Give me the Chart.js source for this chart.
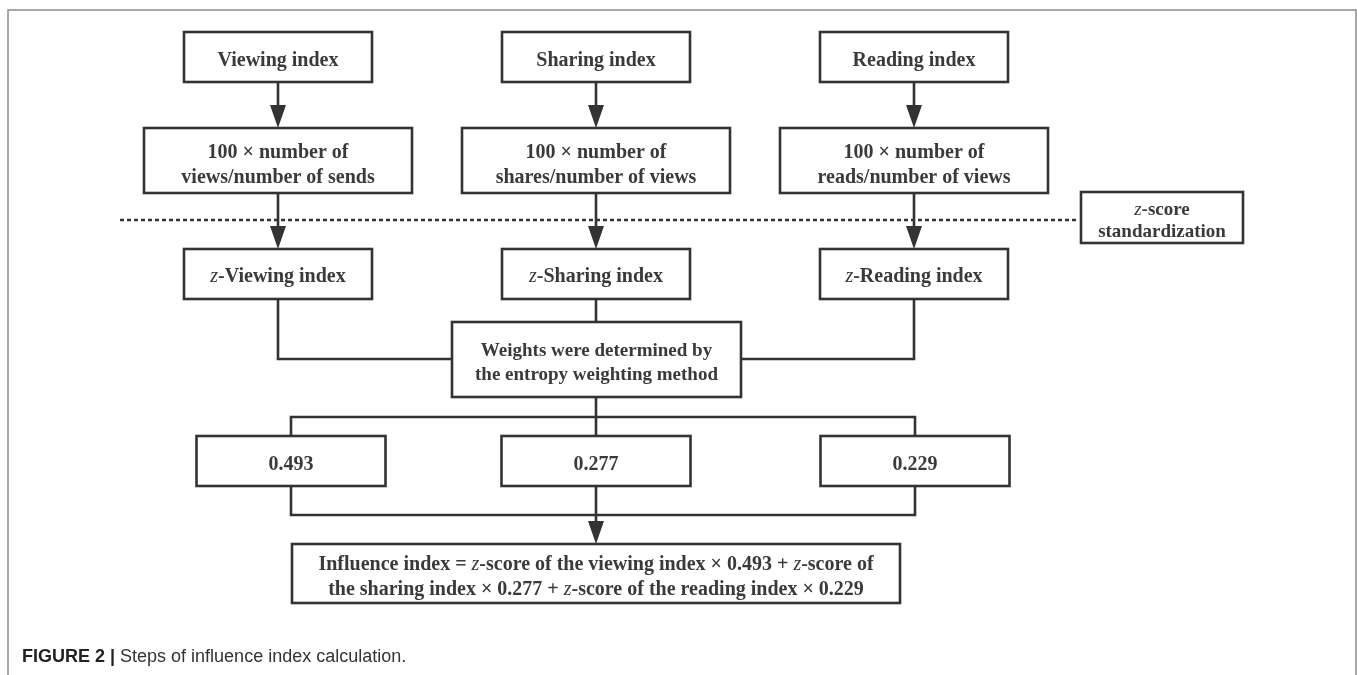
<!DOCTYPE html>
<html>
<head>
<meta charset="utf-8">
<script src="https://cdn.jsdelivr.net/npm/chart.js@4.4.1/dist/chart.umd.min.js"></script>
<style>
  html, body { margin: 0; padding: 0; background: #fff; }
  #wrap { width: 1357px; height: 675px; position: relative; }
</style>
</head>
<body>
<div id="wrap"><canvas id="c" width="1357" height="675"></canvas></div>
<script>
// ---------------- DATA (content of the flowchart) ----------------
const sourceIndices = ['Viewing index', 'Sharing index', 'Reading index'];
const formulaLines = [
  ['100 × number of', 'views/number of sends'],
  ['100 × number of', 'shares/number of views'],
  ['100 × number of', 'reads/number of views']
];
const standardizedIndices = ['*z*-Viewing index', '*z*-Sharing index', '*z*-Reading index'];
const stageNote = ['*z*-score', 'standardization'];
const weightingStep = ['Weights were determined by', 'the entropy weighting method'];
const weights = [0.493, 0.277, 0.229];
const resultLines = [
  'Influence index = *z*-score of the viewing index × 0.493 + *z*-score of',
  'the sharing index × 0.277 + *z*-score of the reading index × 0.229'
];
const captionBold = 'FIGURE 2 |';
const captionText = ' Steps of influence index calculation.';

// ---------------- LAYOUT (scale units) ----------------
const L = {
  colX: [278, 596, 914],
  weightColX: [291, 596, 915],
  row1: { top: 32, bottom: 82, w: 188 },
  row2: { top: 128, bottom: 193, w: 268 },
  dashY: 220, dashX0: 120, dashX1: 1077,
  note: { left: 1081, right: 1243, top: 192, bottom: 243 },
  row3: { top: 249, bottom: 299, w: 188 },
  mid: { left: 452, right: 741, top: 322, bottom: 397 },
  joinY1: 359, splitY: 417,
  row4: { top: 436, bottom: 486, w: 189 },
  joinY2: 515,
  result: { left: 292, right: 900, top: 544, bottom: 603 },
  frame: { left: 8, top: 10, right: 1356 },
  caption: { x: 22, y: 657 }
};
const INK = '#333333';
const TEXT = '#3a3a3a';
const LW = 2.6;
const FONT_PX = 20;
const SERIF = '"Liberation Serif", "Times New Roman", serif';

// ---------------- DRAWING PLUGIN ----------------
function richSegments(str) {
  const parts = str.split('*');
  return parts.map((t, i) => ({ t, italic: i % 2 === 1 })).filter(s => s.t.length);
}
function fontFor(s, size) {
  return (s.italic ? 'italic ' : 'bold ') + size + 'px ' + SERIF;
}
function drawRich(ctx, str, cx, cy, size) {
  const segs = richSegments(str);
  let total = 0;
  segs.forEach(s => {
    ctx.font = fontFor(s, size);
    s.w = ctx.measureText(s.t).width; total += s.w;
  });
  let x = cx - total / 2;
  ctx.textAlign = 'left';
  ctx.textBaseline = 'middle';
  segs.forEach(s => {
    ctx.font = fontFor(s, size);
    ctx.fillText(s.t, x, cy);
    x += s.w;
  });
}

const flowPlugin = {
  id: 'flow',
  afterDraw(chart) {
    const ctx = chart.ctx;
    const sx = v => chart.scales.x.getPixelForValue(v);
    const sy = v => chart.scales.y.getPixelForValue(v);
    ctx.save();
    ctx.lineCap = 'butt';
    ctx.lineJoin = 'miter';

    // frame
    ctx.strokeStyle = '#8c8c8c';
    ctx.lineWidth = 1.5;
    ctx.beginPath();
    ctx.moveTo(sx(L.frame.left), sy(675));
    ctx.lineTo(sx(L.frame.left), sy(L.frame.top));
    ctx.lineTo(sx(L.frame.right), sy(L.frame.top));
    ctx.lineTo(sx(L.frame.right), sy(675));
    ctx.stroke();

    ctx.strokeStyle = INK;
    ctx.fillStyle = INK;
    ctx.lineWidth = LW;

    const line = (pts) => {
      ctx.beginPath();
      ctx.moveTo(sx(pts[0][0]), sy(pts[0][1]));
      for (let i = 1; i < pts.length; i++) ctx.lineTo(sx(pts[i][0]), sy(pts[i][1]));
      ctx.stroke();
    };
    const arrow = (x, y0, y1) => {
      line([[x, y0], [x, y1 - 20]]);
      ctx.beginPath();
      ctx.moveTo(sx(x), sy(y1));
      ctx.lineTo(sx(x - 8), sy(y1 - 23));
      ctx.lineTo(sx(x + 8), sy(y1 - 23));
      ctx.closePath();
      ctx.fill();
    };
    const box = (l, t, r, b, lines, lh, dy, size) => {
      ctx.fillStyle = '#fff';
      ctx.fillRect(sx(l), sy(t), sx(r) - sx(l), sy(b) - sy(t));
      ctx.strokeStyle = INK;
      ctx.lineWidth = LW;
      ctx.strokeRect(sx(l), sy(t), sx(r) - sx(l), sy(b) - sy(t));
      ctx.fillStyle = TEXT;
      const cx = (sx(l) + sx(r)) / 2;
      const cy = (sy(t) + sy(b)) / 2 + (dy || 0);
      const n = lines.length;
      lines.forEach((s, i) => drawRich(ctx, s, cx, cy + (i - (n - 1) / 2) * lh, size || FONT_PX));
      ctx.fillStyle = INK;
    };

    // connectors first
    L.colX.forEach(x => {
      arrow(x, L.row1.bottom, L.row2.top);
      arrow(x, L.row2.bottom, L.row3.top);
    });
    // dashed standardization line
    ctx.save();
    ctx.setLineDash([4, 3]);
    ctx.lineWidth = 2.4;
    line([[L.dashX0, L.dashY], [L.dashX1, L.dashY]]);
    ctx.restore();
    ctx.strokeStyle = INK; ctx.fillStyle = INK; ctx.lineWidth = LW;
    // z boxes to weighting step
    line([[L.colX[0], L.row3.bottom], [L.colX[0], L.joinY1], [L.mid.left, L.joinY1]]);
    line([[L.colX[1], L.row3.bottom], [L.colX[1], L.mid.top]]);
    line([[L.colX[2], L.row3.bottom], [L.colX[2], L.joinY1], [L.mid.right, L.joinY1]]);
    // split to weights
    line([[L.colX[1], L.mid.bottom], [L.colX[1], L.splitY]]);
    line([[L.weightColX[0], L.row4.top], [L.weightColX[0], L.splitY], [L.weightColX[2], L.splitY], [L.weightColX[2], L.row4.top]]);
    line([[L.weightColX[1], L.splitY], [L.weightColX[1], L.row4.top]]);
    // join weights to result
    line([[L.weightColX[0], L.row4.bottom], [L.weightColX[0], L.joinY2], [L.weightColX[2], L.joinY2], [L.weightColX[2], L.row4.bottom]]);
    arrow(L.weightColX[1], L.row4.bottom, L.result.top);

    // boxes
    sourceIndices.forEach((s, i) => {
      const x = L.colX[i];
      box(x - L.row1.w / 2, L.row1.top, x + L.row1.w / 2, L.row1.bottom, [s], 0, 4);
      box(x - L.row2.w / 2, L.row2.top, x + L.row2.w / 2, L.row2.bottom, formulaLines[i], 25, 5);
      box(x - L.row3.w / 2, L.row3.top, x + L.row3.w / 2, L.row3.bottom, [standardizedIndices[i]], 0, 3);
    });
    box(L.note.left, L.note.top, L.note.right, L.note.bottom, stageNote, 22, 3.5, 19);
    box(L.mid.left, L.mid.top, L.mid.right, L.mid.bottom, weightingStep, 23.5, 3.5, 19);
    weights.forEach((w, i) => {
      const x = L.weightColX[i];
      box(x - L.row4.w / 2, L.row4.top, x + L.row4.w / 2, L.row4.bottom, [w.toFixed(3)], 0, 4);
    });
    box(L.result.left, L.result.top, L.result.right, L.result.bottom, resultLines, 25, 4);

    // caption
    ctx.textAlign = 'left';
    ctx.textBaseline = 'middle';
    ctx.fillStyle = '#222';
    ctx.font = 'bold 18px "Liberation Sans", Arial, sans-serif';
    const bx = sx(L.caption.x), by = sy(L.caption.y);
    ctx.fillText(captionBold, bx, by);
    const bw = ctx.measureText(captionBold).width;
    ctx.font = '18px "Liberation Sans", Arial, sans-serif';
    ctx.fillStyle = '#333';
    ctx.fillText(captionText, bx + bw, by);
    ctx.restore();
  }
};

new Chart(document.getElementById('c'), {
  type: 'scatter',
  data: { datasets: [{ data: [], pointRadius: 0 }] },
  options: {
    responsive: false,
    animation: false,
    events: [],
    layout: { padding: 0 },
    plugins: { legend: { display: false }, tooltip: { enabled: false }, title: { display: false } },
    scales: {
      x: { type: 'linear', min: 0, max: 1357, display: false },
      y: { type: 'linear', min: 0, max: 675, reverse: true, display: false }
    }
  },
  plugins: [flowPlugin]
});
</script>
</body>
</html>
